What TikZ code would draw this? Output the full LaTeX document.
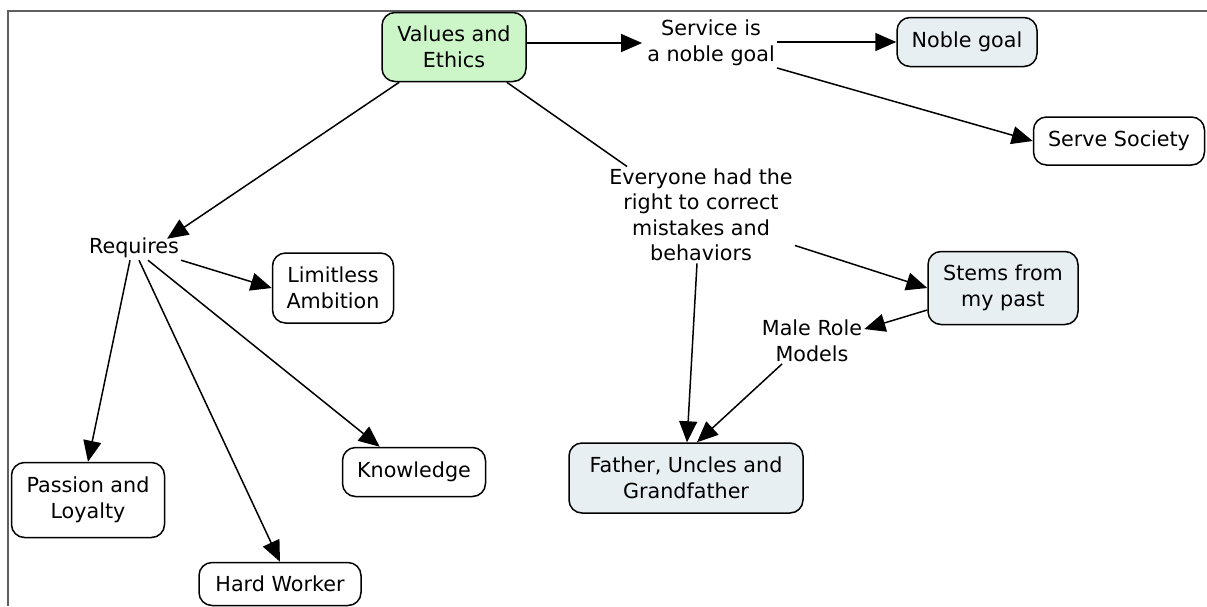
\documentclass[tikz,border=0pt]{standalone}
\usepackage{fontspec}
\setmainfont{DejaVu Sans}
\usetikzlibrary{arrows.meta}
\definecolor{conceptgreen}{RGB}{204,246,200}
\definecolor{conceptblue}{RGB}{232,239,243}
\definecolor{framegray}{RGB}{95,95,95}
\begin{document}
\begin{tikzpicture}[x=1pt,y=-1pt,
  every node/.style={font=\fontsize{20.7}{25.5}\selectfont, align=center},
  concept/.style={draw, line width=1.5pt, rounded corners=13pt, fill=white, inner sep=2pt},
  greenbox/.style={concept, fill=conceptgreen},
  bluebox/.style={concept, fill=conceptblue},
  phrase/.style={inner sep=2pt},
  link/.style={line width=1.5pt, -{Triangle[length=21pt,width=18pt]}},
  plainlink/.style={line width=1.5pt}
]
\useasboundingbox (0,0) rectangle (1207,606);
% frame lines
\draw[framegray, line width=2pt] (7,11) -- (1207,11);
\draw[framegray, line width=2pt] (8,11) -- (8,606);

% concepts
\node[greenbox, minimum width=144pt, minimum height=69pt] (values) at (454,47) {Values and\\Ethics};
\node[bluebox, minimum width=140pt, minimum height=49pt] (noble) at (967,42) {Noble goal};
\node[concept, minimum width=171pt, minimum height=48pt] (society) at (1119,141) {Serve Society};
\node[concept, minimum width=121pt, minimum height=70pt] (limitless) at (333,288) {Limitless\\Ambition};
\node[bluebox, minimum width=150pt, minimum height=73pt] (stems) at (1003,288) {Stems from\\my past};
\node[bluebox, minimum width=234pt, minimum height=70pt] (father) at (686,478) {Father, Uncles and\\Grandfather};
\node[concept, minimum width=143pt, minimum height=49pt] (knowledge) at (414,472) {Knowledge};
\node[concept, minimum width=153pt, minimum height=75pt] (passion) at (88,500) {Passion and\\Loyalty};
\node[concept, minimum width=162pt, minimum height=43pt] (hard) at (280,584) {Hard Worker};

% linking phrases
\node[phrase] (service) at (711,43) {Service is\\a noble goal};
\node[phrase] (everyone) at (701,215) {Everyone had the\\right to correct\\mistakes and\\behaviors};
\node[phrase] (requires) at (134,248) {Requires};
\node[phrase] (male) at (812,341) {Male Role\\Models};

% connectors
\draw[link] (values.east |- service) -- ([xshift=-3pt]service.west);
\draw[link] (service.east |- noble.west) -- (noble.west);
\draw[link] (service.south east) -- (society.west);
\draw[link] ([xshift=18pt]values.south west) -- ([xshift=-14pt,yshift=-3pt]requires.north east);
\draw[plainlink] ([xshift=-20pt]values.south east) -- ([xshift=20pt]everyone.north west);
\draw[link] (requires.south east) -- (limitless.west);
\draw[link] ([xshift=-4pt]requires.south) -- (passion.north);
\draw[link] ([xshift=5pt]requires.south) -- (hard.north);
\draw[link] ([xshift=14pt]requires.south) -- ([xshift=38pt]knowledge.north west);
\draw[link] ([yshift=18pt]everyone.south east) -- (stems.west);
\draw[link] ([xshift=-4pt]everyone.south) -- ([xshift=1pt]father.north);
\draw[link] ([yshift=-22pt]stems.west) -- ([yshift=-11pt]male.north east);
\draw[link] ([xshift=-30pt]male.south) -- ([xshift=11pt]father.north);
\end{tikzpicture}
\end{document}
